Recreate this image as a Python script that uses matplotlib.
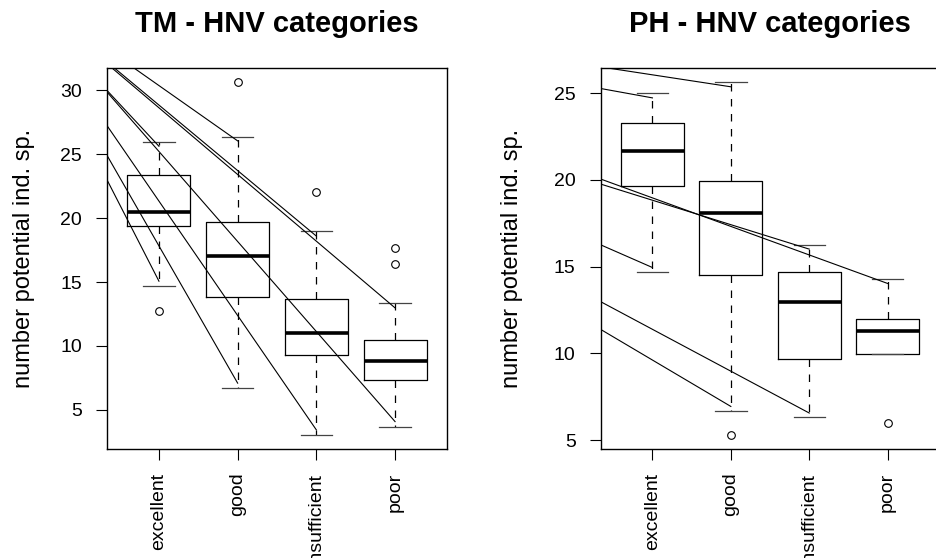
import matplotlib
matplotlib.use("Agg")
import matplotlib.pyplot as plt
import numpy as np

plt.rcParams['font.family'] = ['Liberation Sans', 'DejaVu Sans']

categories = ["excellent", "good", "insufficient", "poor"]

# TM panel box statistics
tm_whislo = [14.69, 6.70, 3.04, 3.69]
tm_q1 = [19.35, 13.87, 9.32, 7.36]
tm_med = [20.52, 17.04, 11.02, 8.85]
tm_q3 = [23.38, 19.71, 13.69, 10.45]
tm_whishi = [26.0, 26.34, 18.98, 13.35]
tm_fliers = [[12.72], [30.65], [22.04], [17.64, 16.44]]

# PH panel box statistics
ph_whislo = [14.70, 6.69, 6.31, 9.99]
ph_q1 = [19.66, 14.49, 9.66, 9.99]
ph_med = [21.68, 18.11, 12.98, 11.30]
ph_q3 = [23.26, 19.95, 14.68, 11.98]
ph_whishi = [25.0, 25.64, 16.26, 14.27]
ph_fliers = [[], [5.30], [], [5.98]]

# straight lines: from x=0 (value y0) to category x1 (value y1)
tm_line_y0 = [27.09, 28.57, 30.29, 32.27, 32.25, 33.86, 33.98, 34.71]
tm_line_x1 = [1, 2, 3, 4, 1, 4, 3, 2]
tm_line_y1 = [15.07, 7.09, 3.43, 4.08, 25.63, 12.98, 18.6, 26.05]

ph_line_y0 = [26.75, 25.55, 20.61, 20.24, 16.93, 13.80, 12.29]
ph_line_x1 = [2, 1, 4, 3, 1, 3, 2]
ph_line_y1 = [25.37, 24.73, 14.03, 16.01, 14.95, 6.56, 6.94]

tm_yticks = [5, 10, 15, 20, 25, 30]
ph_yticks = [5, 10, 15, 20, 25]


def panel(ax, title, whislo, q1, med, q3, whishi, fliers, y0, x1, y1, yticks, labx):
    positions = np.arange(1, len(categories) + 1)
    stats = [dict(whislo=a, q1=b, med=c, q3=d, whishi=e, fliers=f, label=cat)
             for a, b, c, d, e, f, cat in zip(whislo, q1, med, q3, whishi, fliers, categories)]
    ax.bxp(stats, positions=positions, widths=0.8, capwidths=0.4, showfliers=True,
           boxprops=dict(color='black', lw=0.9),
           medianprops=dict(color='black', lw=2.6, solid_capstyle='butt'),
           whiskerprops=dict(color='black', lw=0.9, linestyle=(0, (6, 6))),
           capprops=dict(color='#444444', lw=0.9),
           flierprops=dict(marker='o', markerfacecolor='none', markeredgecolor='black',
                           markersize=5.5, markeredgewidth=0.8))
    for a, b, c in zip(y0, x1, y1):
        ax.plot([0, b], [a, c], color='black', lw=0.8)
    allv = list(whislo) + list(whishi) + [v for f in fliers for v in f]
    lo, hi = min(allv), max(allv)
    pad = 0.04 * (hi - lo)
    ax.set_ylim(lo - pad, hi + pad)
    ax.set_xlim(0.5 - 0.16, len(categories) + 0.5 + 0.16)
    ax.set_xticks(positions)
    ax.set_xticklabels(categories, rotation=90, va='top')
    ax.set_yticks(yticks)
    ax.tick_params(direction='out', length=8, width=0.8, labelsize=14, pad=9, colors='black')
    ax.tick_params(axis='y', pad=10)
    for s in ax.spines.values():
        s.set_linewidth(1.0)
        s.set_color('black')
    ax.set_ylabel("number potential ind. sp.", fontsize=17)
    ax.yaxis.set_label_coords(labx, 0.5)
    ax.set_title(title, fontsize=21, fontweight='bold', pad=26)


fig = plt.figure(figsize=(9.36, 5.58), dpi=100)
ax1 = fig.add_axes([107 / 936, 109 / 558, 340 / 936, 381 / 558])
ax2 = fig.add_axes([600.7 / 936, 109 / 558, 338.7 / 936, 381 / 558])

panel(ax1, "TM - HNV categories", tm_whislo, tm_q1, tm_med, tm_q3, tm_whishi, tm_fliers,
      tm_line_y0, tm_line_x1, tm_line_y1, tm_yticks, -0.212)
panel(ax2, "PH - HNV categories", ph_whislo, ph_q1, ph_med, ph_q3, ph_whishi, ph_fliers,
      ph_line_y0, ph_line_x1, ph_line_y1, ph_yticks, -0.229)

fig.savefig("out.png", dpi=100)
